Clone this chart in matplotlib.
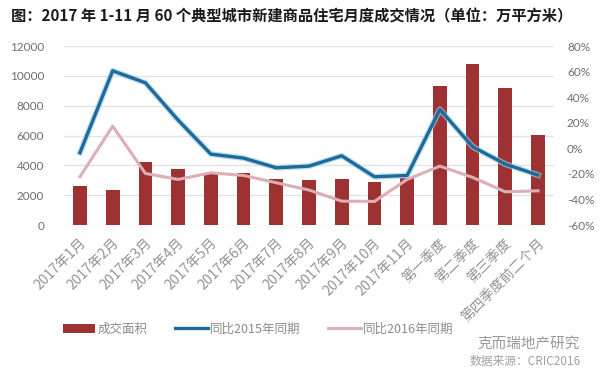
import matplotlib
matplotlib.use("Agg")
import matplotlib.pyplot as plt
import matplotlib.transforms as mtrans
from matplotlib.ticker import FuncFormatter

plt.rcParams['font.family'] = ['Noto Sans CJK SC', 'DejaVu Sans']

# data
categories = ['2017年1月', '2017年2月', '2017年3月', '2017年4月', '2017年5月', '2017年6月',
              '2017年7月', '2017年8月', '2017年9月', '2017年10月', '2017年11月',
              '第一季度', '第二季度', '第三季度', '第四季度前二个月']
area = [2650, 2350, 4250, 3780, 3400, 3510, 3070, 3000, 3110, 2910, 3160,
        9330, 10820, 9220, 6070]
yoy_2015 = [-3.4, 60.7, 51.3, 22.1, -4.5, -7.6, -15.2, -13.9, -5.8, -22.2, -21.2,
            30.5, 1.3, -12.3, -20.9]
yoy_2016 = [-22.2, 17.4, -19.6, -24.3, -19.1, -21.2, -26.9, -32.6, -41.3, -41.5, -24.3,
            -13.9, -22.7, -34.0, -33.2]

bar_color = '#9E3232'
blue = '#1F6A98'
pink = '#DBAFB5'
grey_txt = '#6E6E6E'

fig = plt.figure(figsize=(6, 3.72), dpi=100)
ax = fig.add_axes([0.106, 0.395, 0.818, 0.481])
ax2 = ax.twinx()

x = list(range(len(categories)))
bars = ax.bar(x, area, width=0.42, color=bar_color, zorder=2, label='成交面积')
ax.set_ylim(0, 12000)
ax.set_yticks(range(0, 12001, 2000))
ax.set_xlim(-0.5, len(categories) - 0.5)
ax.grid(axis='y', color='#E3E3E3', linewidth=1, zorder=0)
ax.set_axisbelow(True)

# blue line with a faint halo
ax2.plot(x, yoy_2015, color='#9FD3EE', linewidth=4.2, alpha=0.7, solid_joinstyle='round')
l1, = ax2.plot(x, yoy_2015, color=blue, linewidth=2.4, solid_joinstyle='round', label='同比2015年同期')
l2, = ax2.plot(x, yoy_2016, color=pink, linewidth=2.2, solid_joinstyle='round', label='同比2016年同期')
ax2.set_ylim(-60, 80)
ax2.set_yticks(range(-60, 81, 20))
ax2.yaxis.set_major_formatter(FuncFormatter(lambda v, p: '%d%%' % v))

for a in (ax, ax2):
    for s in a.spines.values():
        s.set_visible(False)
    a.tick_params(length=0)

ax.tick_params(axis='y', labelsize=8.5, labelcolor=grey_txt, pad=14)
ax2.tick_params(axis='y', labelsize=8.5, labelcolor=grey_txt, pad=9)
for t in ax.get_yticklabels() + ax2.get_yticklabels():
    t.set_family(['Lato', 'DejaVu Sans'])

ax.set_xticks(x)
ax.set_xticklabels(categories, rotation=45, ha='right', va='center',
                   rotation_mode='anchor', fontsize=10, color='#939393')
shift = mtrans.ScaledTranslation(4 / 100, -11 / 100, fig.dpi_scale_trans)
for t in ax.get_xticklabels():
    t.set_transform(t.get_transform() + shift)

leg = fig.legend(handles=[bars, l1, l2], loc='center', bbox_to_anchor=(0.43, 0.115),
                 ncol=3, frameon=False, fontsize=9, handlelength=2.6, handletextpad=0.2,
                 columnspacing=2.2)
for t in leg.get_texts():
    t.set_color('#8A8A8A')

fig.text(0.018, 0.955, '图：2017 年 1-11 月 60 个典型城市新建商品住宅月度成交情况（单位：万平方米）',
         fontsize=11, fontweight='bold', color='#1A1A1A', va='center', ha='left')

fig.text(0.967, 0.075, '克而瑞地产研究', fontsize=10.5, color='#9A9A9A', ha='right', va='center')
fig.text(0.967, 0.027, '数据来源：CRIC2016', fontsize=8.5, color='#A0A0A0', ha='right', va='center')

fig.savefig('out.png', dpi=100)
